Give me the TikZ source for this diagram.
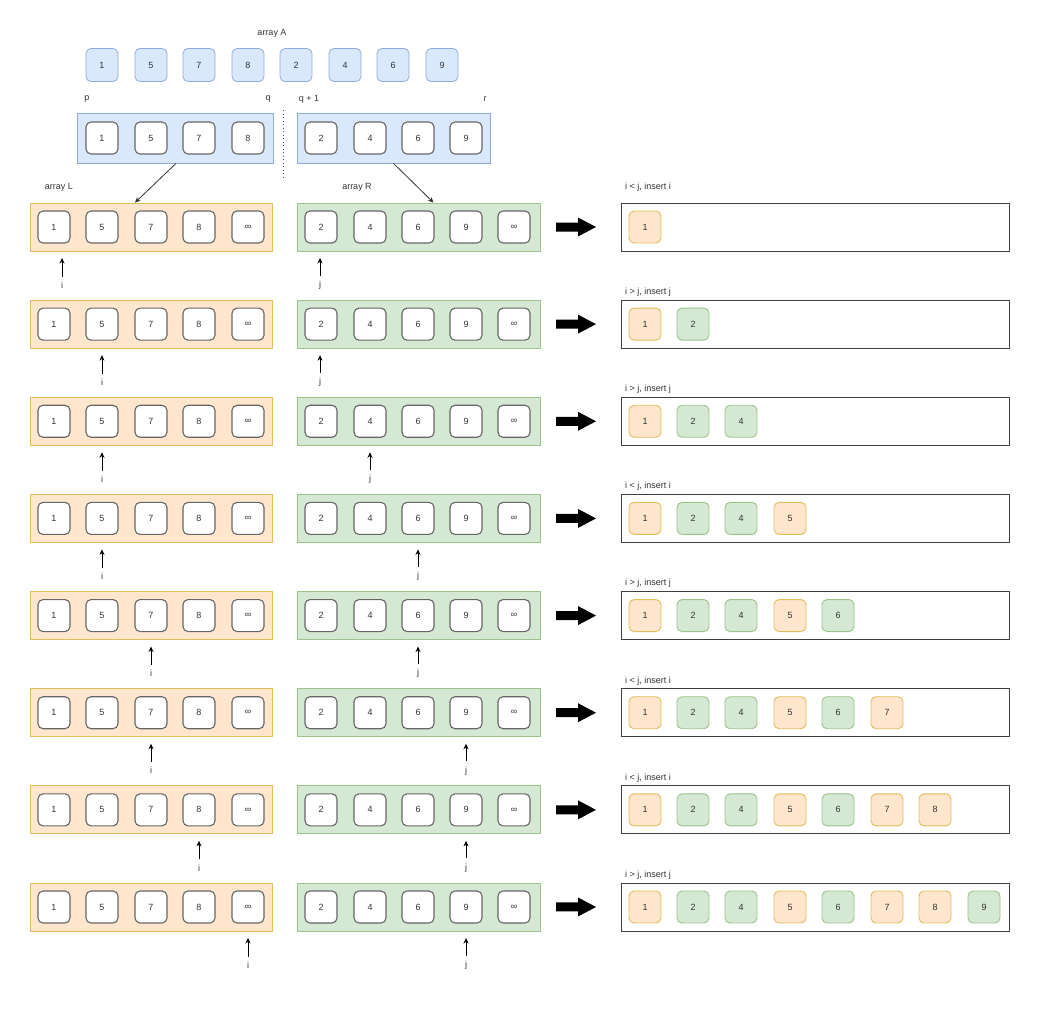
\documentclass[tikz,border=0pt]{standalone}
\usepackage{fontspec}
\setmainfont{Liberation Sans}
\usetikzlibrary{calc,arrows.meta}
\definecolor{txt}{HTML}{333333}
\definecolor{cellline}{HTML}{666666}
\definecolor{bfill}{HTML}{DAE8FC}
\definecolor{bline}{HTML}{8FAADC}
\definecolor{ofill}{HTML}{FFE6CC}
\definecolor{oline}{HTML}{E0BE5C}
\definecolor{gfill}{HTML}{D5E8D4}
\definecolor{gline}{HTML}{9CC48A}
\tikzset{
  cell/.style={rectangle, rounded corners=5pt, minimum width=32pt, minimum height=32pt,
    draw=cellline, line width=1.1pt, fill=white, inner sep=0pt},
  acell/.style={rectangle, rounded corners=5pt, minimum width=32pt, minimum height=33pt,
    draw=bline, line width=0.8pt, fill=bfill, inner sep=0pt},
  rcell/.style={rectangle, rounded corners=5pt, minimum width=32pt, minimum height=32pt,
    line width=0.9pt, inner sep=0pt},
  cont/.style={rectangle, line width=0.8pt, inner sep=0pt},
  bluecont/.style={cont, draw=bline, fill=bfill, minimum width=196pt, minimum height=50pt},
  lcont/.style={cont, draw=oline, fill=ofill, minimum width=242pt, minimum height=48pt},
  rcont/.style={cont, draw=gline, fill=gfill, minimum width=243pt, minimum height=48pt},
  rescont/.style={cont, draw=black!75, line width=0.9pt, fill=white, minimum width=388pt, minimum height=48pt},
  lbl/.style={inner sep=1pt},
  ptr/.style={draw=black, line width=0.9pt, -{Stealth[length=5.5pt,width=5pt]}},
  conn/.style={draw=black!80, line width=0.8pt, -{Stealth[length=5.5pt,width=5pt]}},
  bigarrow/.style={fill=black},
}
\begin{document}
\begin{tikzpicture}[x=1pt,y=-1pt, font=\fontsize{9}{11}\selectfont, text=txt]
\useasboundingbox (0,0) rectangle (1039,1015);

% array A
\node[lbl] (labA) at (272,33) {array A};
\foreach \x/\v [count=\n] in {102/1,151/5,199/7,248/8,296/2,345/4,393/6,442/9}
  \node[acell] (A\n) at (\x,65) {\v};

% split
\node[lbl] (labp) at (87,99) {p};
\node[lbl] (labq) at (268,99) {q};
\node[lbl] (labq1) at (309,99) {q + 1};
\node[lbl] (labr) at (485,99) {r};
\node[bluecont] (PL) at (175,138) {};
\node[bluecont, minimum width=193pt] (PR) at (393.5,138) {};
\foreach \x/\v [count=\n] in {102/1,151/5,199/7,248/8}
  \node[cell] (PLc\n) at (\x,138) {\v};
\foreach \x/\v [count=\n] in {321/2,370/4,418/6,466/9}
  \node[cell] (PRc\n) at (\x,138) {\v};
\coordinate (dotA) at (283,110);
\coordinate (dotB) at (283,177);
\draw[black!70, line width=1pt, dash pattern=on 1pt off 2.5pt] (dotA) -- (dotB);

\node[lbl] (labL) at (59,187) {array L};
\node[lbl] (labR) at (357,187) {array R};

% rows
\foreach \k/\ix/\jx/\lab in {1/62/320/{i < j, insert i},2/102/320/{i > j, insert j},3/102/370/{i > j, insert j},4/102/418/{i < j, insert i},5/151/418/{i > j, insert j},6/151/466/{i < j, insert i},7/199/466/{i < j, insert i},8/248/466/{i > j, insert j}}{
  \pgfmathsetmacro{\yy}{227+97.14*(\k-1)}
  \node[lcont] (L\k) at (151,\yy) {};
  \node[rcont] (R\k) at (418.5,\yy) {};
  \node[rescont] (S\k) at (815,\yy) {};
  \foreach \x/\v [count=\n] in {54/1,102/5,151/7,199/8,248/∞}
    \node[cell] (L\k c\n) at (\x,\yy) {\v};
  \foreach \x/\v [count=\n] in {321/2,370/4,418/6,466/9,514/∞}
    \node[cell] (R\k c\n) at (\x,\yy) {\v};
  \fill[bigarrow, shift={(556,\yy)}] (0,-4.5) -- (22,-4.5) -- (22,-9.5) -- (40,0) -- (22,9.5) -- (22,4.5) -- (0,4.5) -- cycle;
  \foreach \m/\x/\v/\c in {1/645/1/o,2/693/2/g,3/741/4/g,4/790/5/o,5/838/6/g,6/887/7/o,7/935/8/o,8/984/9/g}{
    \ifnum\m>\k\relax\else
      \node[rcell, fill=\c fill, draw=\c line] (S\k c\m) at (\x,\yy) {\v};
    \fi
  }
  \ifnum\k=1\relax
    \node[lbl, anchor=west] (T\k) at (624,187) {\lab};
  \else
    \node[lbl, anchor=west] (T\k) at (624,\yy-32) {\lab};
  \fi
  \node[lbl] (I\k) at (\ix,\yy+58) {i};
  \coordinate (Ia\k) at (\ix,\yy+31);
  \draw[ptr] (I\k.north) ++(0,-4) -- (Ia\k);
  \node[lbl] (J\k) at (\jx,\yy+58) {j};
  \coordinate (Ja\k) at (\jx,\yy+31);
  \draw[ptr] (J\k.north) ++(0,-4) -- (Ja\k);
}

% connectors from split arrays
\draw[conn] ($(PL.south)+(1,0)$) -- ($(L1.north)+(-16,0)$);
\draw[conn] ($(PR.south)+(0,0)$) -- ($(R1.north)+(15,0)$);
\end{tikzpicture}
\end{document}
